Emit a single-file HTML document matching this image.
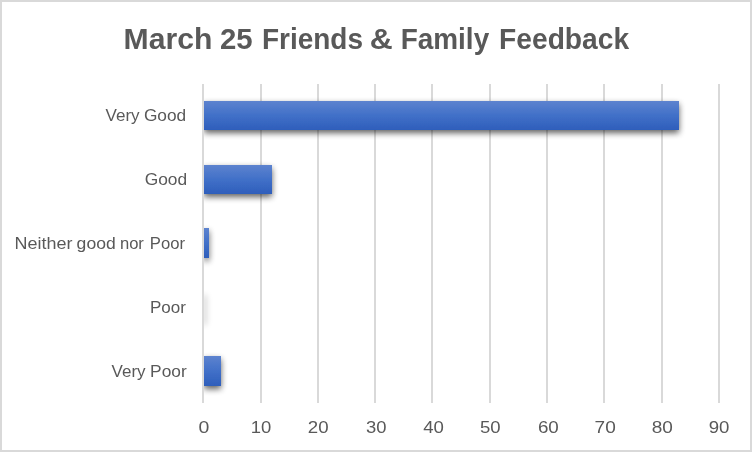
<!DOCTYPE html>
<html><head><meta charset="utf-8"><title>March 25 Friends &amp; Family Feedback</title>
<style>
html,body{margin:0;padding:0;background:#fff;}
body{width:752px;height:452px;overflow:hidden;position:relative;font-family:"Liberation Sans",sans-serif;}
svg{position:absolute;left:0;top:0;display:block}
text{font-family:"Liberation Sans",sans-serif;fill:#595959}
.t text{font-weight:bold;font-size:29.7px}
.l text{font-size:17px}
</style></head><body>
<svg width="752" height="452" viewBox="0 0 752 452">
<defs>
<linearGradient id="g" x1="0" y1="0" x2="0" y2="1">
<stop offset="0" stop-color="#5D83CF"/><stop offset="0.5" stop-color="#4170C8"/><stop offset="1" stop-color="#2E5EBB"/>
</linearGradient>
<filter id="sh" x="-10" y="-10" width="520" height="60" filterUnits="userSpaceOnUse" primitiveUnits="userSpaceOnUse">
<feGaussianBlur in="SourceAlpha" stdDeviation="3"/>
<feOffset dx="0" dy="2.5" result="o"/>
<feComponentTransfer><feFuncA type="linear" slope="0.63"/></feComponentTransfer>
<feMerge><feMergeNode/><feMergeNode in="SourceGraphic"/></feMerge>
</filter>
<filter id="sh0" x="-12" y="-12" width="40" height="64" filterUnits="userSpaceOnUse" primitiveUnits="userSpaceOnUse">
<feGaussianBlur in="SourceAlpha" stdDeviation="3"/>
<feOffset dx="0" dy="2.5"/>
<feComponentTransfer><feFuncA type="linear" slope="0.63"/></feComponentTransfer>
</filter>
<clipPath id="cp"><rect x="204" y="60" width="540" height="380"/></clipPath>
</defs>
<rect x="0" y="0" width="752" height="452" fill="#fff"/>
<rect x="1" y="1" width="750" height="450" fill="none" stroke="#D9D9D9" stroke-width="2"/>
<g fill="#D9D9D9">
<rect x="202" y="84" width="2" height="319"/>
<rect x="260" y="84" width="2" height="319"/>
<rect x="317" y="84" width="2" height="319"/>
<rect x="374" y="84" width="2" height="319"/>
<rect x="431" y="84" width="2" height="319"/>
<rect x="489" y="84" width="2" height="319"/>
<rect x="546" y="84" width="2" height="319"/>
<rect x="603" y="84" width="2" height="319"/>
<rect x="661" y="84" width="2" height="319"/>
<rect x="718" y="84" width="2" height="319"/>
</g>
<g clip-path="url(#cp)">
<g transform="translate(204 101)"><rect x="0" y="0" width="475" height="29" fill="url(#g)" filter="url(#sh)"/></g>
<g transform="translate(204 165)"><rect x="0" y="0" width="68" height="29" fill="url(#g)" filter="url(#sh)"/></g>
<g transform="translate(204 228)"><rect x="0" y="0" width="5" height="30" fill="url(#g)" filter="url(#sh)"/></g>
<g transform="translate(204 292)"><rect x="0" y="0" width="1.2" height="30" fill="#000" filter="url(#sh0)"/></g>
<g transform="translate(204 356)"><rect x="0" y="0" width="17" height="30" fill="url(#g)" filter="url(#sh)"/></g>
</g>
<g class="t">
<text transform="translate(123.57 48.6) scale(1.0152 1)">March</text>
<text transform="translate(220.01 48.6) scale(0.9888 1)">25</text>
<text transform="translate(261.92 48.6) scale(0.9423 1)">Friends</text>
<text transform="translate(369.76 48.6) scale(1.0701 1)">&amp;</text>
<text transform="translate(400.72 48.6) scale(0.9404 1)">Family</text>
<text transform="translate(499.10 48.6) scale(0.9489 1)">Feedback</text>
</g>
<g class="l"><text transform="translate(105.47 120.6) scale(1.0037 1)">Very</text><text transform="translate(143.91 120.6) scale(1.0170 1)">Good</text></g>
<g class="l"><text transform="translate(144.71 184.7) scale(1.0221 1)">Good</text></g>
<g class="l"><text transform="translate(14.55 248.7) scale(1.0560 1)">Neither</text><text transform="translate(76.62 248.7) scale(1.0333 1)">good</text><text transform="translate(119.90 248.7) scale(0.9773 1)">nor</text><text transform="translate(149.85 248.7) scale(0.9810 1)">Poor</text></g>
<g class="l"><text transform="translate(150.03 312.8) scale(1.0000 1)">Poor</text></g>
<g class="l"><text transform="translate(111.57 376.9) scale(1.0007 1)">Very</text><text transform="translate(150.10 376.9) scale(1.0190 1)">Poor</text></g>
<g class="l"><text transform="translate(198.58 433) scale(1.1446 1)">0</text><text transform="translate(250.84 433) scale(1.0882 1)">10</text><text transform="translate(307.74 433) scale(1.0993 1)">20</text><text transform="translate(365.92 433) scale(1.0837 1)">30</text><text transform="translate(423.19 433) scale(1.0965 1)">40</text><text transform="translate(479.98 433) scale(1.0914 1)">50</text><text transform="translate(537.93 433) scale(1.1050 1)">60</text><text transform="translate(594.62 433) scale(1.1223 1)">70</text><text transform="translate(651.76 433) scale(1.1200 1)">80</text><text transform="translate(708.68 433) scale(1.0971 1)">90</text></g>
</svg></body></html>
